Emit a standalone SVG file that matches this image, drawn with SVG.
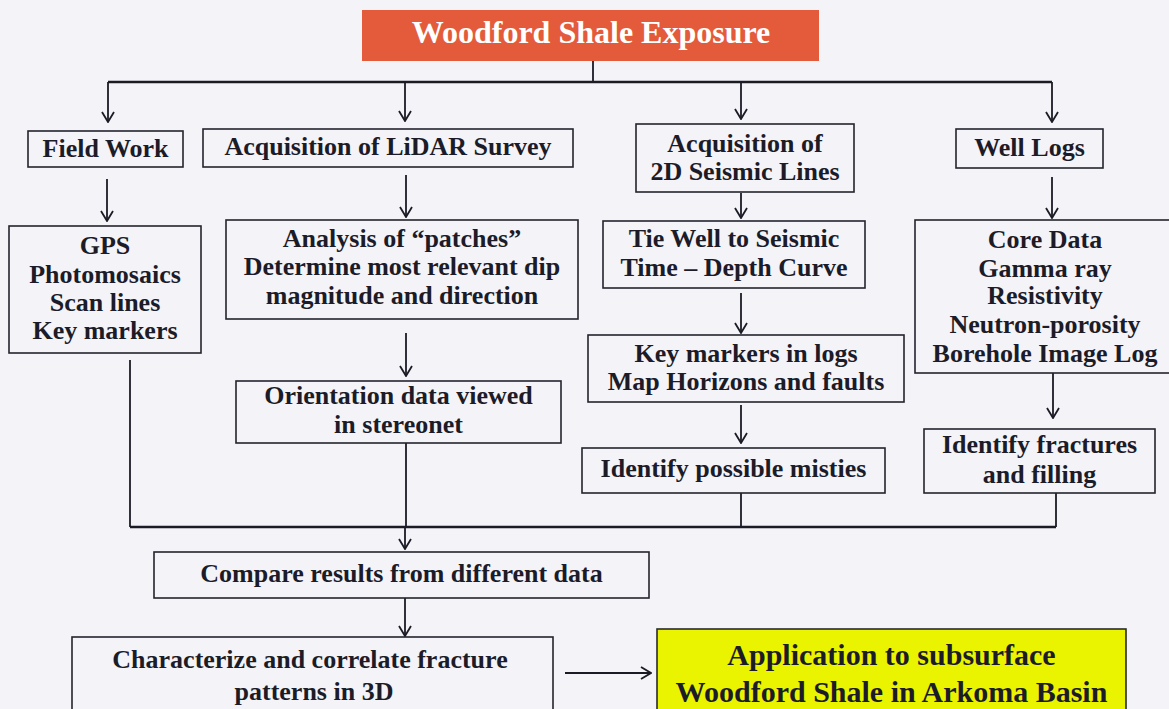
<svg xmlns="http://www.w3.org/2000/svg" width="1169" height="709" viewBox="0 0 1169 709">
<defs>
<style>
.bg{fill:#f4f3f8}
.box{fill:none;stroke:#24242e;stroke-width:1.6}
.t{font-family:"Liberation Serif","Times New Roman",serif;font-weight:bold;font-size:26px;fill:#1c1c28;text-anchor:middle}
.title{font-family:"Liberation Serif","Times New Roman",serif;font-weight:bold;font-size:32px;fill:#ffffff;text-anchor:middle}
.big{font-size:30px}
.ln{fill:none;stroke:#1b1b26;stroke-width:1.8}
.bus{fill:none;stroke:#1b1b26;stroke-width:2.4}
.ar{fill:none;stroke:#1b1b26;stroke-width:1.8;marker-end:url(#ah)}
</style>
<marker id="ah" viewBox="0 0 12 14" refX="11" refY="7" markerWidth="12" markerHeight="14" markerUnits="userSpaceOnUse" orient="auto">
<path d="M1,1 L11,7 L1,13" fill="none" stroke="#1b1b26" stroke-width="1.8"/>
</marker>
</defs>
<rect class="bg" x="0" y="0" width="1169" height="709"/>

<g id="connectors">
<path class="ln" d="M593,61 V82"/>
<path class="bus" d="M108,82 H1052"/>
<path class="ar" d="M108,82 V122"/>
<path class="ar" d="M405,82 V121"/>
<path class="ar" d="M741,82 V119"/>
<path class="ar" d="M1052,82 V122"/>
<path class="ar" d="M107,179 V221"/>
<path class="ar" d="M406,175 V217"/>
<path class="ar" d="M406,333 V376"/>
<path class="ar" d="M741,193 V218"/>
<path class="ar" d="M741,293 V333"/>
<path class="ar" d="M741,405 V443"/>
<path class="ar" d="M1052,177 V218"/>
<path class="ar" d="M1053,373 V418"/>
<path class="ln" d="M130,360 V527"/>
<path class="ln" d="M406,443 V527"/>
<path class="ln" d="M741,493 V527"/>
<path class="ln" d="M1056,493 V527"/>
<path class="bus" d="M130,527 H1056"/>
<path class="ar" d="M405,527 V549"/>
<path class="ar" d="M405,598 V636"/>
<path class="ar" d="M565,673 H651"/>
</g>

<g id="title">
<rect x="362" y="10" width="457" height="51" fill="#e35b3b"/>
<text class="title" x="591" y="43">Woodford Shale Exposure</text>
</g>

<g id="field-work">
<rect class="box" x="28" y="131" width="155" height="36"/>
<text class="t" x="105.5" y="157">Field Work</text>
</g>

<g id="lidar">
<rect class="box" x="203" y="129" width="370" height="38"/>
<text class="t" x="388" y="155">Acquisition of LiDAR Survey</text>
</g>

<g id="seismic">
<rect class="box" x="636" y="124" width="218" height="68"/>
<text class="t" x="745" y="152">Acquisition of</text>
<text class="t" x="745" y="180">2D Seismic Lines</text>
</g>

<g id="well-logs">
<rect class="box" x="956" y="129" width="147" height="39"/>
<text class="t" x="1029.5" y="156">Well Logs</text>
</g>

<g id="gps">
<rect class="box" x="9" y="226" width="192" height="127"/>
<text class="t" x="105" y="254">GPS</text>
<text class="t" x="105" y="283">Photomosaics</text>
<text class="t" x="105" y="311">Scan lines</text>
<text class="t" x="105" y="339">Key markers</text>
</g>

<g id="analysis">
<rect class="box" x="226" y="220" width="352" height="99"/>
<text class="t" x="402" y="247">Analysis of “patches”</text>
<text class="t" x="402" y="275">Determine most relevant dip</text>
<text class="t" x="402" y="304">magnitude and direction</text>
</g>

<g id="tie-well">
<rect class="box" x="603" y="221" width="262" height="67"/>
<text class="t" x="734" y="247">Tie Well to Seismic</text>
<text class="t" x="734" y="276">Time – Depth Curve</text>
</g>

<g id="core-data">
<rect class="box" x="915" y="220" width="270" height="153"/>
<text class="t" x="1045" y="248">Core Data</text>
<text class="t" x="1045" y="277">Gamma ray</text>
<text class="t" x="1045" y="304">Resistivity</text>
<text class="t" x="1045" y="333">Neutron-porosity</text>
<text class="t" x="1045" y="362">Borehole Image Log</text>
</g>

<g id="orientation">
<rect class="box" x="236" y="381" width="325" height="62"/>
<text class="t" x="398.5" y="404">Orientation data viewed</text>
<text class="t" x="398.5" y="433">in stereonet</text>
</g>

<g id="key-markers">
<rect class="box" x="588" y="335" width="316" height="67"/>
<text class="t" x="746" y="362">Key markers in logs</text>
<text class="t" x="746" y="390">Map Horizons and faults</text>
</g>

<g id="misties">
<rect class="box" x="582" y="448" width="303" height="45"/>
<text class="t" x="733.5" y="477">Identify possible misties</text>
</g>

<g id="fractures">
<rect class="box" x="924" y="429" width="231" height="64"/>
<text class="t" x="1039.5" y="453">Identify fractures</text>
<text class="t" x="1039.5" y="483">and filling</text>
</g>

<g id="compare">
<rect class="box" x="154" y="552" width="495" height="46"/>
<text class="t" x="401.5" y="582">Compare results from different data</text>
</g>

<g id="characterize">
<rect class="box" x="72" y="637" width="481" height="100"/>
<text class="t" x="310" y="668">Characterize and correlate fracture</text>
<text class="t" x="314" y="700">patterns in 3D</text>
</g>

<g id="application">
<rect x="657" y="629" width="469" height="100" fill="#eaf300" stroke="#2a2a2a" stroke-width="1.6"/>
<text class="t big" x="891.5" y="665">Application to subsurface</text>
<text class="t big" x="891.5" y="702">Woodford Shale in Arkoma Basin</text>
</g>
</svg>
